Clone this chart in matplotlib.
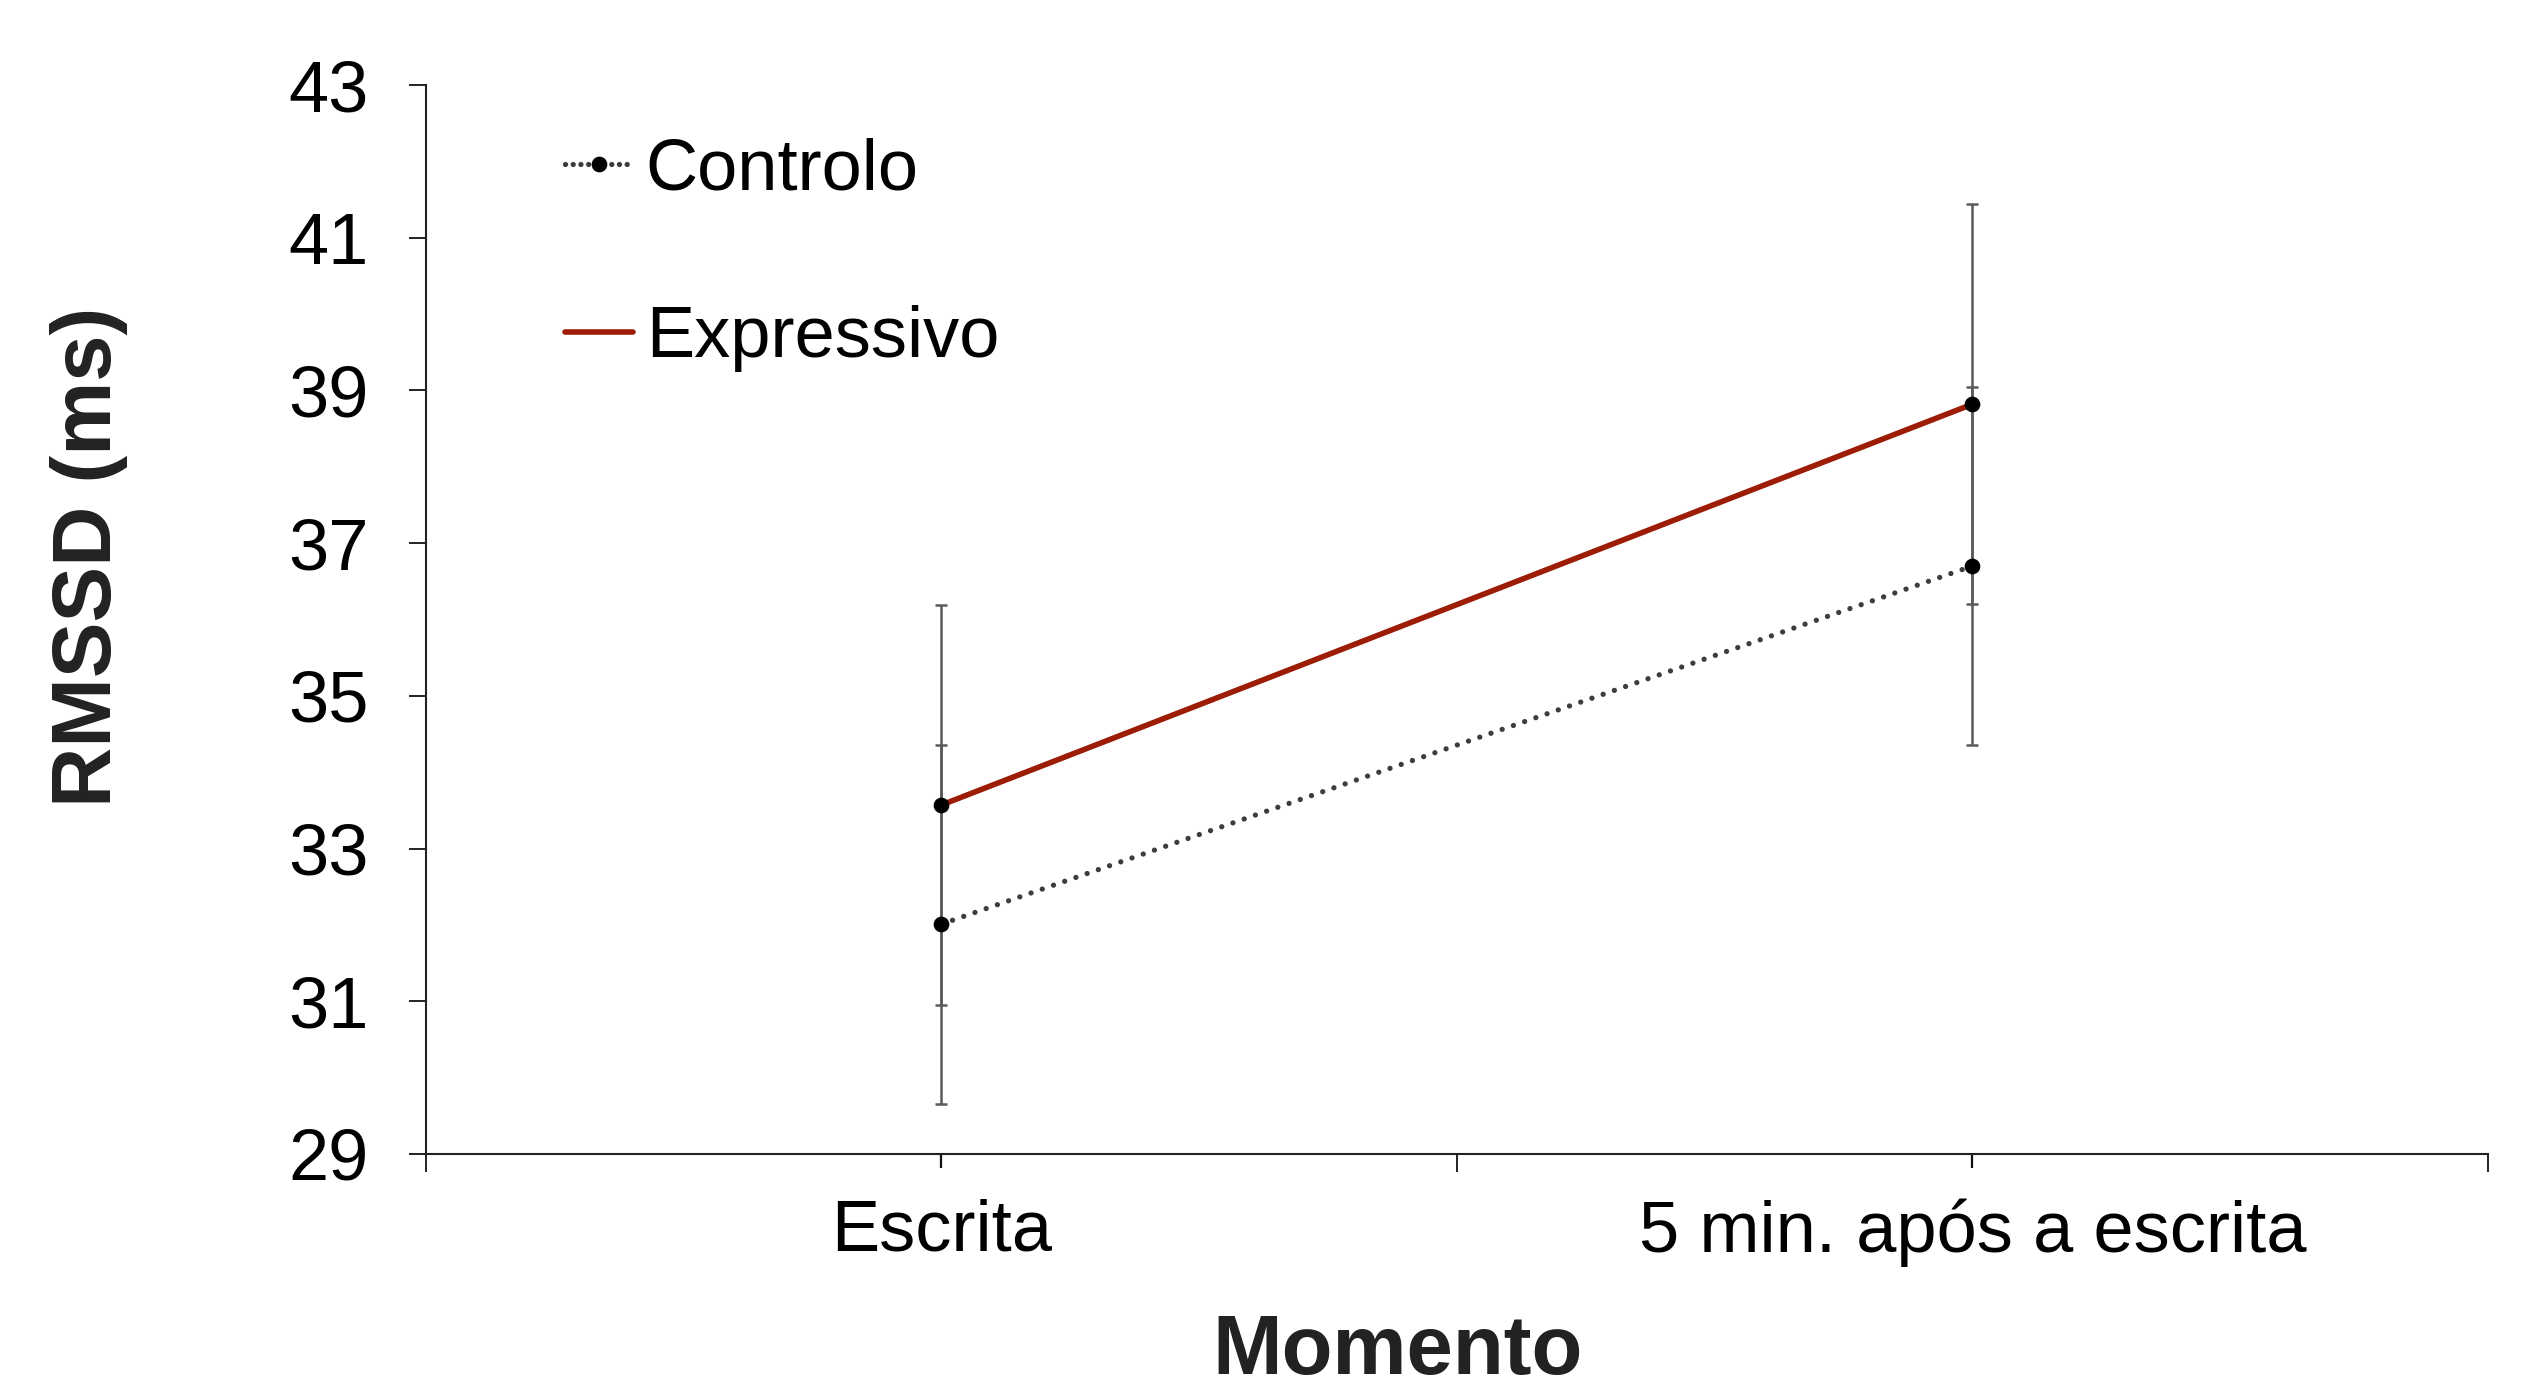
import matplotlib
matplotlib.use("Agg")
import matplotlib.pyplot as plt
from matplotlib.lines import Line2D
import numpy as np

plt.rcParams['font.family'] = ['Liberation Sans', 'DejaVu Sans']

categories = ["Escrita", "5 min. após a escrita"]
controlo = [32.01, 36.70]
controlo_err = [2.35, 2.34]
expressivo = [33.57, 38.82]
expressivo_err = [2.62, 2.62]
series_names = ["Controlo", "Expressivo"]
yticks = [29, 31, 33, 35, 37, 39, 41, 43]

red = "#9c1c06"
dotc = "#3a3e42"
errc = "#5a5a5a"

fig = plt.figure(figsize=(25.32, 13.85), dpi=100)
ax = fig.add_axes([425.7/2532, 231/1385, (2488-425.7)/2532, (1154-85)/1385])

x = np.arange(len(categories))

# error bars
ax.errorbar(x, expressivo, yerr=expressivo_err, fmt='none', ecolor=errc,
            elinewidth=1.8, capsize=4.3, capthick=1.8, zorder=1)
ax.errorbar(x, controlo, yerr=controlo_err, fmt='none', ecolor=errc,
            elinewidth=1.8, capsize=4.3, capthick=1.8, zorder=1)

# lines
ax.plot(x, controlo, color=dotc, lw=3.8, linestyle=(0, (0.01, 2.24)),
        dash_capstyle='round', zorder=2)
ax.plot(x, expressivo, color=red, lw=4.0, solid_capstyle='butt', zorder=2)
ax.plot(x, controlo, 'o', color='black', ms=10.3, zorder=3)
ax.plot(x, expressivo, 'o', color='black', ms=10.3, zorder=3)

ax.set_xlim(-0.5, len(categories) - 0.5)
ax.set_ylim(yticks[0], yticks[-1])

ax.set_xticks(x)
ax.set_xticklabels(categories, fontsize=52)
ax.set_xticks(np.arange(len(categories) + 1) - 0.5, minor=True)
ax.tick_params(axis='x', which='major', length=10, width=1.6, pad=22.3,
               direction='out', color='#111111')
ax.tick_params(axis='x', which='minor', length=13, width=1.4, direction='out', color='#222222')

ax.set_yticks(yticks)
ax.set_yticklabels([str(v) for v in yticks], fontsize=52)
ax.tick_params(axis='y', length=12.2, width=1.4, direction='out', pad=28.8, color='#222222')

for s in ['top', 'right']:
    ax.spines[s].set_visible(False)
for s in ['left', 'bottom']:
    ax.spines[s].set_linewidth(1.5)
    ax.spines[s].set_color('#222222')

handles = [
    Line2D([], [], color=dotc, lw=3.8, linestyle=(0, (0.01, 1.45)),
           dash_capstyle='round', marker='o', markersize=10.3,
           markerfacecolor='black', markeredgecolor='black'),
    Line2D([], [], color=red, lw=4.0, solid_capstyle='round'),
]
ax.legend(handles, series_names, loc='upper left', bbox_to_anchor=(0.0675, 0.951),
          frameon=False, fontsize=52, handlelength=0.94, handletextpad=0.18,
          labelspacing=1.4, borderpad=0, borderaxespad=0)

fig.text(1398/2532, (1385-1374)/1385, "Momento", fontsize=60, fontweight='bold',
         ha='center', va='baseline', color='#222222')
fig.text(89/2532, (1385-557)/1385, "RMSSD (ms)", fontsize=60, fontweight='bold',
         ha='center', va='center', rotation=90, color='#222222')

fig.savefig("out.png", dpi=100)
